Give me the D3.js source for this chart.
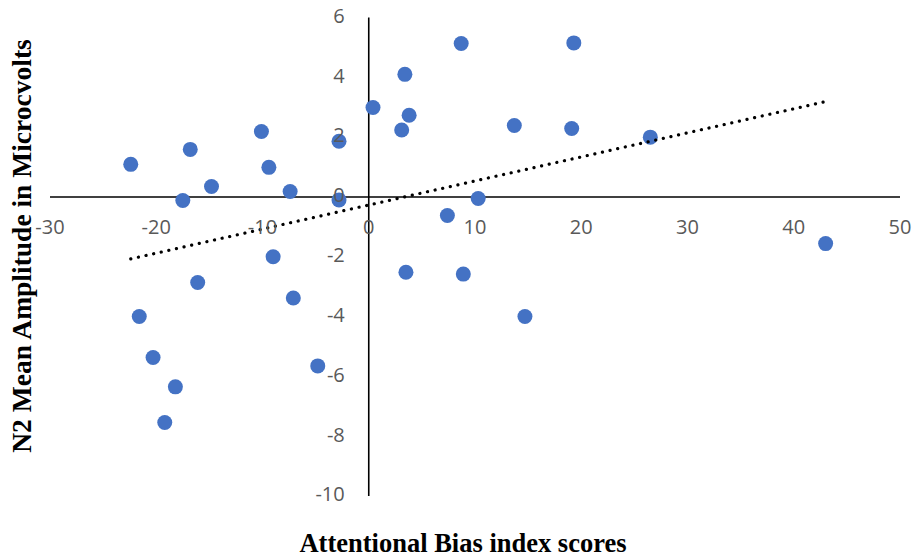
<!DOCTYPE html>
<html>
<head>
<meta charset="utf-8">
<script src="https://cdn.jsdelivr.net/npm/d3@7"></script>
<style>
  body { margin: 0; background: #fff; }
  svg { display: block; }
</style>
</head>
<body>
<svg class="chart" width="915" height="560"></svg>
<script>
// attentional bias index (x) vs N2 mean amplitude (y)
var biasScores = [-22.4, -17.5, -16.8, -14.8, -10.1, -9.4, -7.4, -2.8, -2.8, 0.4,
                  3.1, 3.4, 3.8, 7.4, 8.7, 10.3, 13.7, 19.3, 19.1, 26.5,
                  43.0, -9.0, -16.1, -21.6, -7.1, -20.3, -18.2, -19.2, -4.8, 3.5,
                  8.9, 14.7];
var n2Amplitude = [1.09, -0.12, 1.59, 0.35, 2.19, 0.99, 0.18, 1.86, -0.10, 2.99,
                   2.24, 4.10, 2.73, -0.62, 5.13, -0.05, 2.39, 5.15, 2.29, 2.00,
                   -1.56, -2.00, -2.86, -4.00, -3.38, -5.37, -6.35, -7.54, -5.65, -2.52,
                   -2.58, -4.00];
var xTicks = [-30, -20, -10, 0, 10, 20, 30, 40, 50];
var yTicks = [-10, -8, -6, -4, -2, 0, 2, 4, 6];

var svg = d3.select(".chart");

var x = d3.scaleLinear().domain([-30, 50]).range([50, 900]);
var y = d3.scaleLinear().domain([-10, 6]).range([496, 17.5]);

var points = biasScores.map(function (d, i) { return [d, n2Amplitude[i]]; });

// least squares trendline
var mx = d3.mean(biasScores), my = d3.mean(n2Amplitude);
var sxy = d3.sum(points, function (p) { return (p[0] - mx) * (p[1] - my); });
var sxx = d3.sum(points, function (p) { return (p[0] - mx) * (p[0] - mx); });
var slope = sxy / sxx;
var intercept = my - slope * mx;
var xExt = d3.extent(biasScores);

// axis lines through zero
svg.append("line")
    .attr("x1", x(-30)).attr("x2", x(50))
    .attr("y1", y(0)).attr("y2", y(0))
    .attr("stroke", "#000").attr("stroke-width", 1.6);
svg.append("line")
    .attr("x1", x(0)).attr("x2", x(0))
    .attr("y1", y(6)).attr("y2", y(-10))
    .attr("stroke", "#000").attr("stroke-width", 1.6);

svg.append("g").selectAll("circle")
    .data(points)
    .enter()
    .append("circle")
    .attr("cx", function (d) { return x(d[0]); })
    .attr("cy", function (d) { return y(d[1]); })
    .attr("r", 7.5)
    .attr("fill", "#4472C4");

svg.append("line")
    .attr("x1", x(xExt[0])).attr("y1", y(intercept + slope * xExt[0]))
    .attr("x2", x(xExt[1])).attr("y2", y(intercept + slope * xExt[1]))
    .attr("stroke", "#000")
    .attr("stroke-width", 3.2)
    .attr("stroke-linecap", "round")
    .attr("stroke-dasharray", "0.1 7.7");

// tick labels
svg.append("g").selectAll("text")
    .data(xTicks)
    .enter()
    .append("text")
    .attr("x", function (d) { return x(d); })
    .attr("y", y(0) + 32)
    .attr("text-anchor", "middle")
    .attr("dominant-baseline", "middle")
    .style("font-family", "'Open Sans', sans-serif")
    .style("font-size", "20px")
    .style("fill", "#595959")
    .text(function (d) { return d; });

svg.append("g").selectAll("text")
    .data(yTicks)
    .enter()
    .append("text")
    .attr("x", x(0) - 24)
    .attr("y", function (d) { return y(d); })
    .attr("text-anchor", "end")
    .attr("dominant-baseline", "middle")
    .style("font-family", "'Open Sans', sans-serif")
    .style("font-size", "20px")
    .style("fill", "#595959")
    .text(function (d) { return d; });

// titles
svg.append("text")
    .attr("x", 463)
    .attr("y", 552)
    .attr("text-anchor", "middle")
    .style("font-family", "'Liberation Serif', 'Times New Roman', serif")
    .style("font-weight", "bold")
    .style("font-size", "26.5px")
    .text("Attentional Bias index scores");

svg.append("text")
    .attr("transform", "translate(31,246) rotate(-90)")
    .attr("text-anchor", "middle")
    .style("font-family", "'Liberation Serif', 'Times New Roman', serif")
    .style("font-weight", "bold")
    .style("font-size", "27.5px")
    .text("N2 Mean Amplitude in Microcvolts");
</script>
</body>
</html>
